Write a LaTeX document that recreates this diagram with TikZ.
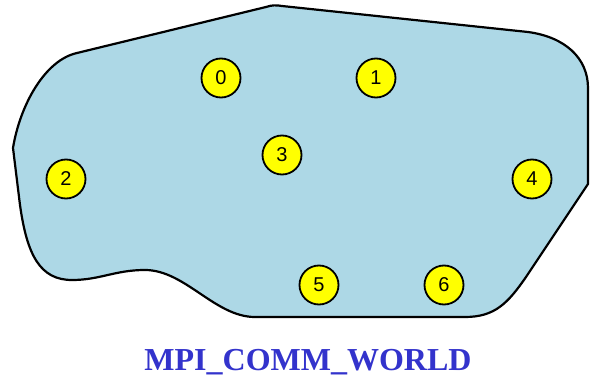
\documentclass[tikz,border=0pt]{standalone}
\usepackage{fontspec}
\setmainfont{Liberation Serif}
\newfontfamily\ranksans{Liberation Sans}
\definecolor{commfill}{HTML}{ADD8E6}
\definecolor{rankfill}{HTML}{FFFF00}
\definecolor{titleblue}{HTML}{3333CC}
\begin{document}
\begin{tikzpicture}[x=1pt,y=-1pt,
  rank/.style={circle,draw=black,line width=1.8pt,fill=rankfill,minimum size=39pt,inner sep=0pt,font=\ranksans\fontsize{20}{20}\selectfont},
  region/.style={draw=black,line width=2.2pt,fill=commfill}]
\useasboundingbox (0,0) rectangle (590,385);
% communicator outline
\path[region] (77,53) -- (266,7) .. controls (272,5) and (276,5) .. (282,6)
  -- (528,32) .. controls (565,37) and (588,58) .. (588,88)
  -- (588,184) -- (526,277)
  .. controls (508,303) and (495,317) .. (465,317)
  -- (255,317)
  .. controls (215,317) and (185,270) .. (145,270)
  .. controls (115,270) and (100,280) .. (72,280)
  .. controls (40,280) and (27,255) .. (20,205)
  -- (13,148)
  .. controls (20,105) and (45,60) .. (77,53) -- cycle;
% process ranks
\node[rank] (r0) at (221,78) {0};
\node[rank] (r1) at (376,78) {1};
\node[rank] (r2) at (66,179) {2};
\node[rank] (r3) at (282,155) {3};
\node[rank] (r4) at (532,179) {4};
\node[rank] (r5) at (319,285) {5};
\node[rank] (r6) at (444,285) {6};
% communicator name
\node[font=\bfseries\fontsize{32}{32}\selectfont,text=titleblue] (title) at (308,362) {MPI\_COMM\_WORLD};
\end{tikzpicture}
\end{document}
